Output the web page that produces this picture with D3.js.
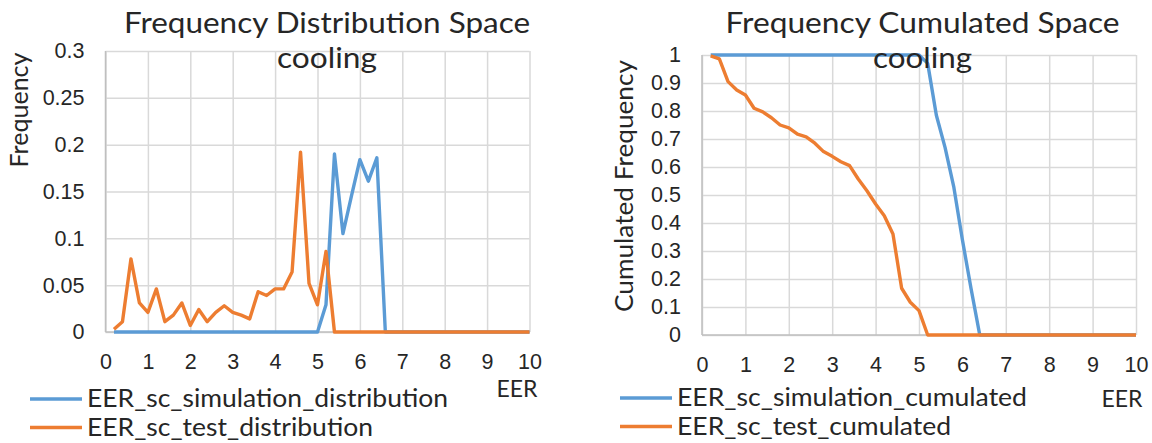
<!DOCTYPE html>
<html>
<head>
<meta charset="utf-8">
<script src="https://cdn.jsdelivr.net/npm/d3@7"></script>
<style>
  html, body { margin: 0; padding: 0; background: #ffffff; }
  svg { display: block; font-family: Lato, "Open Sans", sans-serif; }
</style>
</head>
<body>
<svg id="chart" width="1152" height="443"></svg>
<script>
// EER bin values (x axis)
const eer = [0.2, 0.4, 0.6, 0.8, 1.0, 1.2, 1.4, 1.6, 1.8, 2.0,
             2.2, 2.4, 2.6, 2.8, 3.0, 3.2, 3.4, 3.6, 3.8, 4.0,
             4.2, 4.4, 4.6, 4.8, 5.0, 5.2, 5.4, 5.6, 5.8, 6.0,
             6.2, 6.4, 6.6, 6.8, 7.0, 7.2, 7.4, 7.6, 7.8, 8.0,
             8.2, 8.4, 8.6, 8.8, 9.0, 9.2, 9.4, 9.6, 9.8, 10.0];

// Frequency distribution per bin
const simulationDistribution = [0, 0, 0, 0, 0, 0, 0, 0, 0, 0,
                                0, 0, 0, 0, 0, 0, 0, 0, 0, 0,
                                0, 0, 0, 0, 0, 0.029, 0.190, 0.105, 0.145, 0.184,
                                0.161, 0.186, 0, 0, 0, 0, 0, 0, 0, 0,
                                0, 0, 0, 0, 0, 0, 0, 0, 0, 0];
const testDistribution = [0.003, 0.011, 0.078, 0.031, 0.021, 0.046, 0.011, 0.018, 0.031, 0.007,
                          0.024, 0.011, 0.021, 0.028, 0.021, 0.018, 0.014, 0.043, 0.039, 0.046,
                          0.046, 0.064, 0.192, 0.052, 0.029, 0.086, 0, 0, 0, 0,
                          0, 0, 0, 0, 0, 0, 0, 0, 0, 0,
                          0, 0, 0, 0, 0, 0, 0, 0, 0, 0];

// Cumulated frequency per bin
const simulationCumulated = [1, 1, 1, 1, 1, 1, 1, 1, 1, 1,
                             1, 1, 1, 1, 1, 1, 1, 1, 1, 1,
                             1, 1, 1, 1, 1, 0.97, 0.785, 0.67, 0.53, 0.34,
                             0.165, 0, 0, 0, 0, 0, 0, 0, 0, 0,
                             0, 0, 0, 0, 0, 0, 0, 0, 0, 0];
const testCumulated = [0.997, 0.986, 0.905, 0.875, 0.857, 0.81, 0.797, 0.776, 0.75, 0.74,
                       0.717, 0.708, 0.685, 0.655, 0.638, 0.619, 0.605, 0.557, 0.515, 0.468,
                       0.426, 0.361, 0.167, 0.117, 0.087, 0, 0, 0, 0, 0,
                       0, 0, 0, 0, 0, 0, 0, 0, 0, 0,
                       0, 0, 0, 0, 0, 0, 0, 0, 0, 0];

// Axis ticks
const xTicks = [0, 1, 2, 3, 4, 5, 6, 7, 8, 9, 10];
const distTicks = [0, 0.05, 0.1, 0.15, 0.2, 0.25, 0.3];
const distTickLabels = ["0", "0.05", "0.1", "0.15", "0.2", "0.25", "0.3"];
const cumTicks = [0, 0.1, 0.2, 0.3, 0.4, 0.5, 0.6, 0.7, 0.8, 0.9, 1];
const cumTickLabels = ["0", "0.1", "0.2", "0.3", "0.4", "0.5", "0.6", "0.7", "0.8", "0.9", "1"];

const BLUE = "#5b9bd5";
const ORANGE = "#ed7d31";
const GRID = "#d9d9d9";
const AXIS = "#bfbfbf";
const TEXT = "#262626";

const svg = d3.select("#chart");

// Squeeze or stretch a text element to a given run length
function fit(sel, width) {
  if (width) sel.attr("textLength", width).attr("lengthAdjust", "spacingAndGlyphs");
  return sel;
}

function drawPanel(p) {
  const x = d3.scaleLinear().domain([0, 10]).range([p.left, p.right]);
  const y = d3.scaleLinear().domain([0, p.yMax]).range([p.bottom, p.top]);
  const g = svg.append("g");

  // horizontal gridlines
  g.append("g")
    .attr("transform", `translate(${p.left},0)`)
    .call(d3.axisLeft(y).tickValues(p.yTicks).tickSize(-(p.right - p.left)).tickFormat(""))
    .call(a => a.select(".domain").remove())
    .call(a => a.selectAll("line").attr("stroke", GRID).attr("stroke-width", 1.5));

  // vertical gridlines
  g.append("g")
    .attr("transform", `translate(0,${p.bottom})`)
    .call(d3.axisBottom(x).tickValues(xTicks).tickSize(-(p.bottom - p.top)).tickFormat(""))
    .call(a => a.select(".domain").remove())
    .call(a => a.selectAll("line").attr("stroke", GRID).attr("stroke-width", 1.5));

  // axis lines
  g.append("line")
    .attr("x1", x(0)).attr("x2", x(0)).attr("y1", y(0)).attr("y2", y(p.yMax))
    .attr("stroke", AXIS).attr("stroke-width", 1.5);
  g.append("line")
    .attr("x1", x(0)).attr("x2", x(10)).attr("y1", y(0)).attr("y2", y(0))
    .attr("stroke", AXIS).attr("stroke-width", 1.5);

  // tick labels
  g.append("g")
    .attr("transform", `translate(0,${p.bottom})`)
    .call(d3.axisBottom(x).tickValues(xTicks).tickSize(0).tickPadding(22).tickFormat(d3.format("d")))
    .call(a => a.select(".domain").remove())
    .call(a => a.selectAll("text").attr("fill", TEXT).style("font-size", "21.5px").style("font-family", null));
  g.append("g")
    .attr("transform", `translate(${p.left},0)`)
    .call(d3.axisLeft(y).tickValues(p.yTicks).tickSize(0).tickPadding(21)
      .tickFormat((d, i) => p.yTickLabels[i]))
    .call(a => a.select(".domain").remove())
    .call(a => a.selectAll("text").attr("fill", TEXT).style("font-size", "21.5px").style("font-family", null));

  // series lines
  const line = d3.line().x((d, i) => x(eer[i])).y(d => y(d));
  p.series.forEach(s => {
    g.append("path")
      .datum(s.values)
      .attr("d", line)
      .attr("fill", "none")
      .attr("stroke", s.color)
      .attr("stroke-width", 3.4)
      .attr("stroke-linejoin", "round");
  });

  // title (two lines)
  p.title.forEach((t, i) => {
    fit(g.append("text")
      .attr("x", p.titleX).attr("y", 33 + i * 35)
      .attr("text-anchor", "middle")
      .attr("fill", TEXT)
      .style("font-size", "28px")
      .text(t), p.titleWidths[i]);
  });

  // axis titles
  fit(g.append("text")
    .attr("transform", `translate(${p.yLabelX},${p.yLabelY}) rotate(-90)`)
    .attr("text-anchor", "middle")
    .attr("fill", TEXT)
    .style("font-size", "25px")
    .text(p.yLabel), p.yLabelWidth);
  fit(g.append("text")
    .attr("x", p.xLabelX).attr("y", p.xLabelY)
    .attr("text-anchor", "middle")
    .attr("fill", TEXT)
    .style("font-size", "24px")
    .text("EER"), 41);

  // legend
  p.series.forEach((s, i) => {
    const ly = p.legendY + i * 28.5;
    g.append("line")
      .attr("x1", p.legendX).attr("x2", p.legendX + 52)
      .attr("y1", ly).attr("y2", ly)
      .attr("stroke", s.color).attr("stroke-width", 3.4);
    fit(g.append("text")
      .attr("x", p.legendX + 57).attr("y", ly + 8)
      .attr("fill", TEXT)
      .style("font-size", "25px")
      .text(s.name), p.legendWidths[i]);
  });
}

drawPanel({
  left: 105.5, right: 529.5, top: 51, bottom: 332, yMax: 0.3,
  yTicks: distTicks, yTickLabels: distTickLabels,
  title: ["Frequency Distribution Space", "cooling"], titleX: 327, titleWidths: [406, 100],
  yLabel: "Frequency", yLabelX: 28, yLabelY: 110, yLabelWidth: 115,
  xLabelX: 517, xLabelY: 397,
  legendX: 30, legendY: 399, legendWidths: [361, 286],
  series: [
    { name: "EER_sc_simulation_distribution", values: simulationDistribution, color: BLUE },
    { name: "EER_sc_test_distribution", values: testDistribution, color: ORANGE }
  ]
});

drawPanel({
  left: 702, right: 1136, top: 55, bottom: 335, yMax: 1,
  yTicks: cumTicks, yTickLabels: cumTickLabels,
  title: ["Frequency Cumulated Space", "cooling"], titleX: 922.5, titleWidths: [394, 99],
  yLabel: "Cumulated Frequency", yLabelX: 633, yLabelY: 186, yLabelWidth: 252,
  xLabelX: 1122, xLabelY: 407,
  legendX: 620, legendY: 398, legendWidths: [350, 274],
  series: [
    { name: "EER_sc_simulation_cumulated", values: simulationCumulated, color: BLUE },
    { name: "EER_sc_test_cumulated", values: testCumulated, color: ORANGE }
  ]
});
</script>
</body>
</html>
